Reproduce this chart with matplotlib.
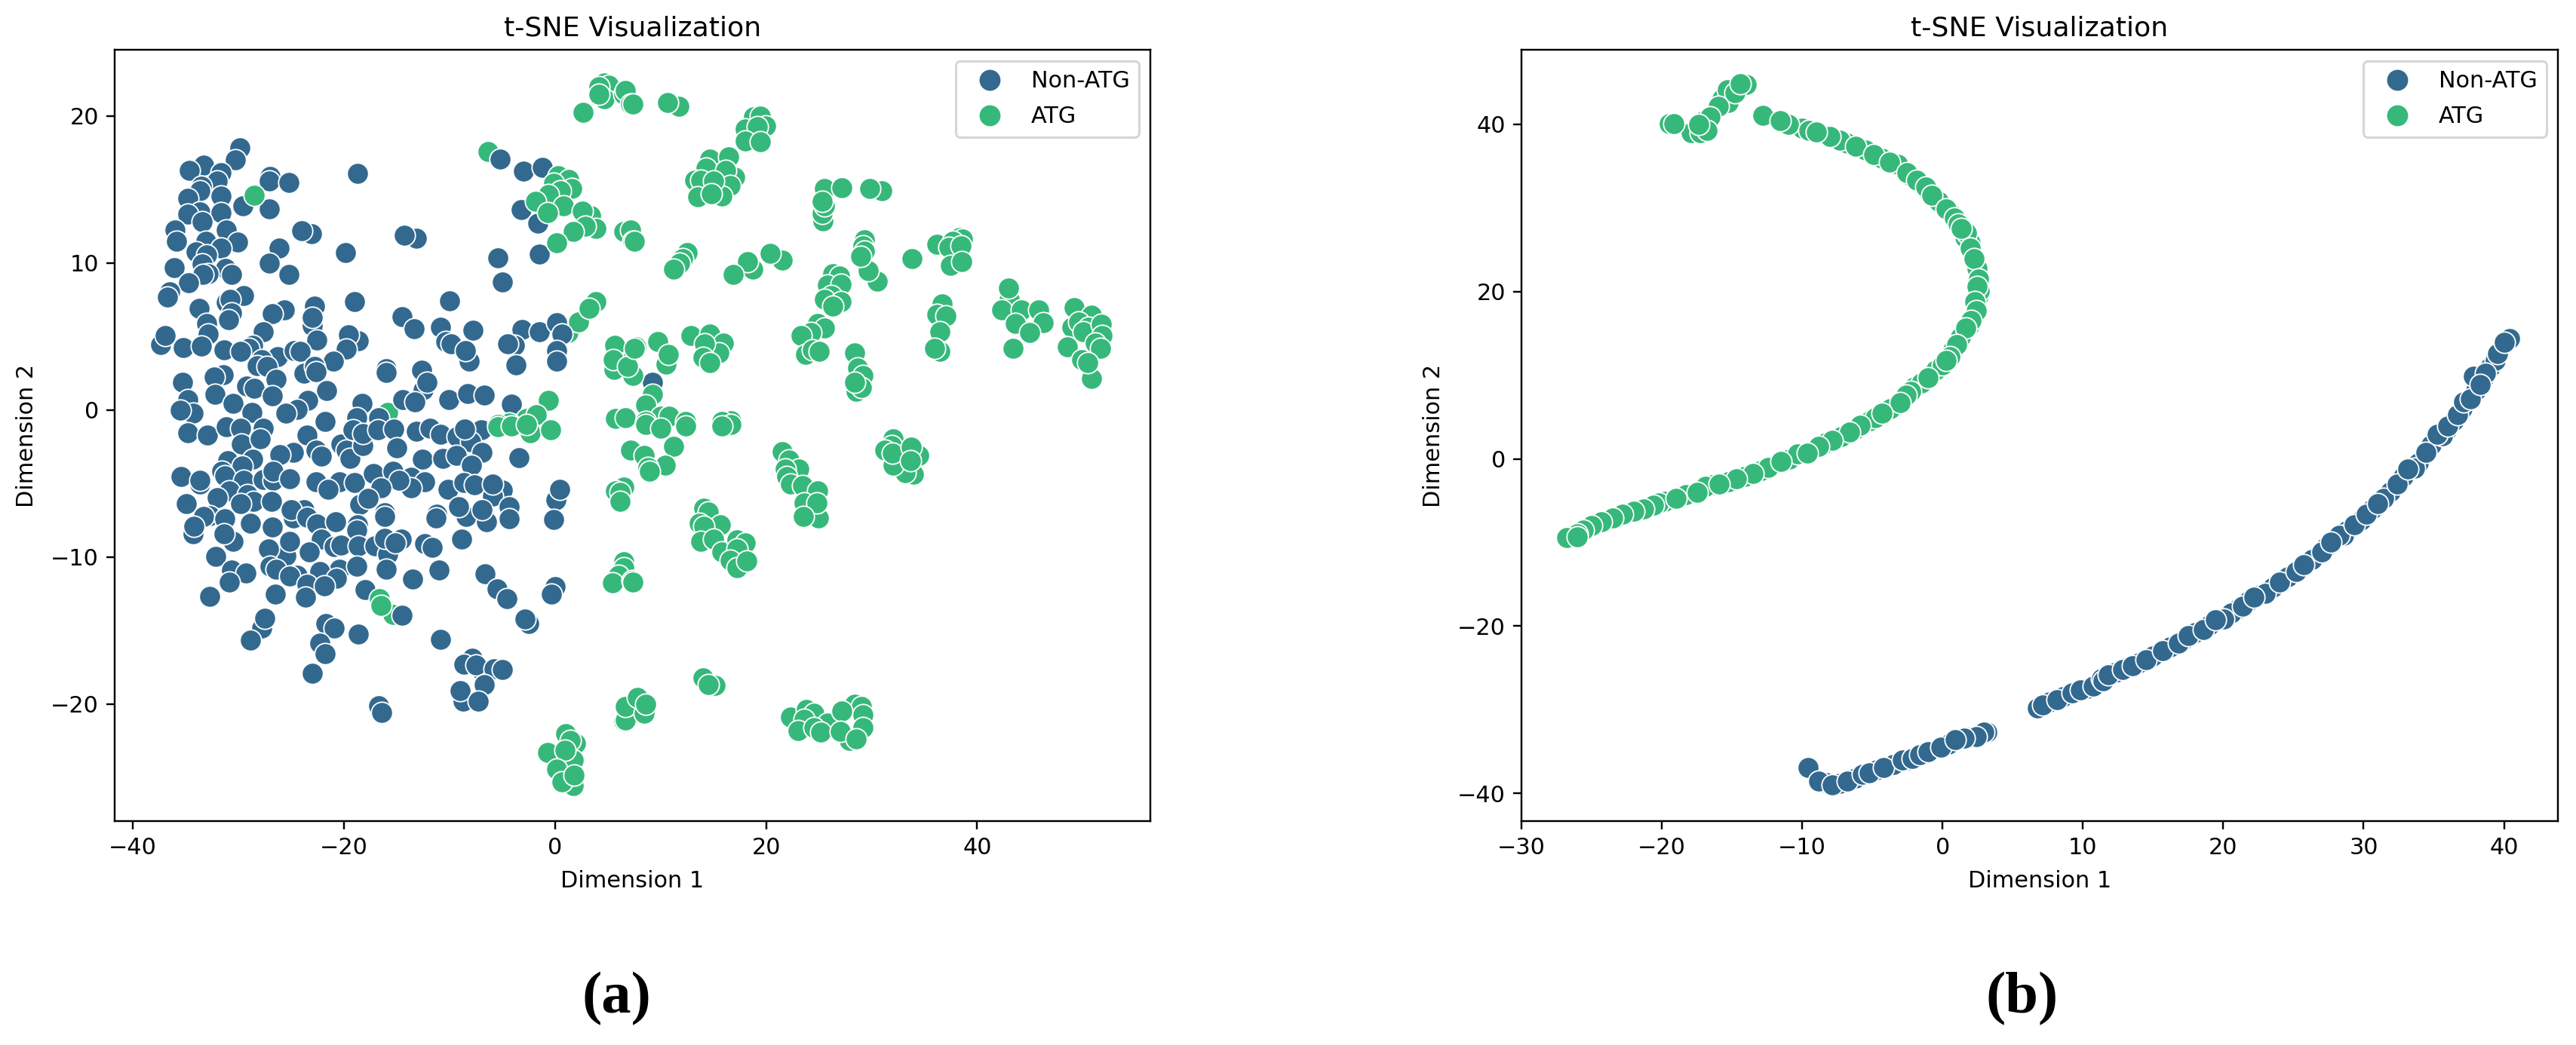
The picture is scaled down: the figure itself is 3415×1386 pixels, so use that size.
import numpy as np
import matplotlib
matplotlib.use("Agg")
import matplotlib.pyplot as plt
from matplotlib.lines import Line2D

BLUE = "#33698f"
GREEN = "#37b87b"
TITLE = "t-SNE Visualization"
XLABEL = "Dimension 1"
YLABEL = "Dimension 2"
LEGEND_LABELS = ["Non-ATG", "ATG"]

A_XTICKS = [-40, -20, 0, 20, 40]
A_YTICKS = [-20, -10, 0, 10, 20]
B_XTICKS = [-30, -20, -10, 0, 10, 20, 30, 40]
B_YTICKS = [-40, -20, 0, 20, 40]

# panel (a): ATG points that sit underneath the Non-ATG ones
A_ATG_BACK = [
    (-6.3, 17.6), (-15.8, -0.15), (1.25, 5.25), (-15.3, -13.9), (2.25, 6.0),
]

A_NON_ATG = [
    (-29.85, 17.86), (-30.3, 17.0), (-33.3, 16.65), (-34.6, 16.3), (-31.6, 16.15), (-31.95, 15.6),
    (-18.7, 16.1), (-27.0, 15.9), (-27.05, 15.6), (-25.2, 15.5), (-33.5, 15.2), (-33.6, 14.9),
    (-31.6, 14.55), (-34.8, 14.4), (-29.55, 13.9), (-27.05, 13.7), (-33.65, 13.5), (-31.6, 13.4),
    (-34.75, 13.3), (-33.4, 12.8), (-31.15, 12.25), (-36.0, 12.25), (-23.05, 12.0), (-24.0, 12.2),
    (-35.85, 11.5), (-33.05, 11.5), (-30.05, 11.45), (-31.65, 11.0), (-26.15, 11.0), (-33.95, 10.75),
    (-19.85, 10.7), (-27.05, 10.0), (-33.0, 10.55), (-36.05, 9.7), (-33.4, 9.95), (-31.2, 9.65),
    (-25.2, 9.2), (-32.85, 9.25), (-33.35, 9.2), (-30.6, 9.2), (-34.7, 8.65), (-36.5, 8.05),
    (-36.7, 7.7), (-29.5, 7.8), (-31.1, 7.3), (-30.8, 7.55), (-33.7, 6.9), (-25.65, 6.8),
    (-26.8, 6.55), (-22.8, 7.05), (-22.95, 5.75), (-22.95, 6.3), (-19.0, 7.4), (-30.6, 6.6),
    (-30.9, 6.15), (-33.0, 5.9), (-32.85, 5.15), (-27.65, 5.35), (-18.65, 4.7), (-19.55, 5.1),
    (-22.55, 4.75), (-37.35, 4.45), (-36.9, 5.05), (-35.2, 4.25), (-33.45, 4.35), (-31.35, 4.1),
    (-28.65, 4.4), (-28.95, 4.2), (-29.75, 4.0), (-26.25, 3.65), (-24.7, 4.05), (-24.1, 4.0),
    (-19.75, 4.15), (-21.0, 3.3), (-27.75, 3.45), (-28.2, 3.0), (-27.25, 2.95), (-23.75, 2.5),
    (-22.8, 2.95), (-22.6, 2.6), (-16.0, 2.8), (-16.0, 2.55), (-35.3, 1.9), (-31.4, 2.4),
    (-32.3, 2.25), (-26.4, 2.1), (-29.2, 1.65), (-28.5, 1.5), (-26.75, 0.95), (-21.6, 1.3),
    (-32.2, 1.05), (-30.45, 0.45), (-34.75, 0.7), (-34.3, -0.2), (-35.5, 0.0), (-23.4, 0.65),
    (-24.4, 0.05), (-25.45, -0.2), (-28.7, -0.15), (-18.3, 0.45), (-18.8, -0.5), (-16.7, -0.5),
    (-14.45, 6.35), (-13.35, 5.55), (-13.15, 11.7), (-14.25, 11.9), (-10.85, 5.65), (-9.95, 7.45),
    (-7.75, 5.45), (-10.35, 4.65), (-9.8, 4.5), (-8.1, 3.35), (-8.5, 4.05), (-3.1, 5.5),
    (-1.5, 5.35), (0.2, 5.95), (0.7, 5.15), (-3.8, 4.4), (-4.45, 4.5), (0.2, 4.05),
    (0.2, 3.3), (-3.7, 3.05), (-12.6, 2.7), (-12.45, 1.4), (-12.1, 1.9), (-14.4, 0.7),
    (-13.25, 0.55), (-10.05, 0.7), (-8.25, 1.1), (-6.7, 1.0), (-4.15, 0.4), (-5.2, 17.05),
    (-2.95, 16.25), (-1.2, 16.5), (-3.2, 13.65), (-1.6, 12.7), (-5.4, 10.35), (-1.45, 10.6),
    (-4.95, 8.7), (9.25, 1.9),
    (-34.75, -1.55), (-32.9, -1.7), (-31.1, -1.15), (-29.75, -1.25), (-27.6, -1.25), (-29.7, -2.3),
    (-27.9, -1.95), (-23.5, -1.7), (-21.8, -0.8), (-22.65, -2.7), (-22.1, -3.15), (-20.25, -2.3),
    (-19.75, -2.75), (-19.4, -3.3), (-19.15, -1.35), (-18.2, -2.4), (-18.2, -1.6), (-16.75, -1.35),
    (-15.25, -1.3), (-15.0, -2.55), (-13.15, -1.45), (-11.8, -1.25), (-10.85, -1.65), (-9.25, -1.8),
    (-7.0, -1.35), (-8.0, -2.15), (-8.55, -1.3), (-12.55, -3.35), (-10.65, -3.3), (-9.35, -3.1),
    (-6.9, -2.9), (-7.9, -3.75), (-3.4, -3.25), (-28.6, -3.35), (-24.8, -2.9), (-26.05, -3.05),
    (-31.0, -3.45), (-29.65, -3.8), (-31.55, -4.15), (-31.25, -4.45), (-29.45, -4.75), (-35.4, -4.5),
    (-33.65, -5.05), (-33.65, -4.75), (-27.6, -4.7), (-26.7, -4.8), (-26.7, -4.15), (-25.1, -4.65),
    (-22.65, -4.9), (-20.4, -4.9), (-21.5, -5.4), (-18.95, -4.95), (-17.2, -4.3), (-15.3, -4.15),
    (-13.6, -4.55), (-12.3, -4.9), (-13.65, -5.3), (-14.75, -4.8), (-16.5, -5.3), (-18.5, -6.4),
    (-17.7, -6.0), (-10.15, -5.4), (-8.6, -4.95), (-7.65, -5.1), (-4.95, -5.45), (-5.9, -5.85),
    (-5.9, -5.05), (0.1, -6.1), (0.45, -5.4), (-0.15, -7.45), (-30.85, -5.5), (-31.95, -5.95),
    (-34.9, -6.35), (-29.15, -5.75), (-28.55, -6.2), (-29.8, -6.35), (-26.85, -6.2), (-23.75, -6.75),
    (-24.75, -7.35), (-24.95, -6.8), (-23.45, -7.3), (-32.7, -7.2), (-33.3, -7.25), (-31.25, -7.4),
    (-34.3, -8.4), (-34.2, -7.9), (-28.85, -7.7), (-26.75, -7.95), (-22.55, -7.75), (-20.8, -7.6),
    (-18.7, -7.8), (-18.8, -8.15), (-16.15, -7.0), (-16.1, -7.25), (-11.2, -7.1), (-11.25, -7.35),
    (-8.4, -7.25), (-9.1, -6.55), (-6.45, -7.6), (-6.9, -6.75), (-4.3, -6.55), (-4.35, -7.4),
    (-30.45, -8.95), (-31.35, -8.4), (-25.5, -9.9), (-25.1, -8.95), (-27.1, -9.45), (-22.1, -8.8),
    (-20.9, -9.3), (-20.3, -9.2), (-18.6, -9.25), (-17.05, -9.25), (-15.8, -9.8), (-16.15, -8.7),
    (-14.55, -8.75), (-15.15, -9.05), (-12.3, -9.1), (-11.65, -9.35), (-8.8, -8.8), (-23.25, -9.65),
    (-32.15, -9.95), (-26.95, -10.6), (-26.4, -10.8), (-24.4, -11.25), (-25.1, -11.3), (-20.4, -10.8),
    (-22.3, -11.0), (-20.7, -11.45), (-18.75, -10.6), (-15.95, -10.8), (-10.95, -10.9), (-30.6, -10.9),
    (-29.25, -11.1), (-30.85, -11.7), (-13.5, -11.5), (-23.45, -11.85), (-21.85, -11.95), (-6.6, -11.15),
    (-5.5, -12.15), (-4.55, -12.85), (0.05, -12.0), (-0.3, -12.5), (-18.0, -12.2), (-32.7, -12.65),
    (-26.5, -12.5), (-23.65, -12.7), (-14.45, -13.95), (-2.45, -14.5), (-2.85, -14.2), (-27.75, -14.85),
    (-27.45, -14.15), (-28.85, -15.65), (-21.7, -14.5), (-20.9, -14.85), (-18.65, -15.25), (-22.3, -15.85),
    (-21.8, -16.55), (-10.8, -15.6), (-22.95, -17.9), (-7.8, -16.9), (-8.6, -17.3), (-6.85, -17.8),
    (-7.5, -17.35), (-5.75, -17.6), (-5.0, -17.65), (-6.7, -18.65), (-8.7, -19.8), (-8.95, -19.1),
    (-7.25, -19.8), (-16.7, -20.1), (-16.4, -20.55),
]

A_ATG = [
    (-28.5, 14.6), (-16.6, -12.85), (-16.5, -13.3),
    (0.3, 15.95), (1.3, 15.7), (-0.15, 15.4), (1.6, 15.05), (0.5, 14.9), (-0.65, 14.65), (-1.85, 14.2),
    (0.8, 13.9), (-0.7, 13.45), (3.35, 13.2), (2.6, 13.55), (3.85, 12.35), (2.85, 12.5), (1.75, 12.15),
    (0.15, 11.35), (3.9, 7.4), (3.25, 6.9), (4.65, 22.25), (5.1, 22.1), (4.15, 22.0), (4.7, 21.15),
    (4.2, 21.5), (2.65, 20.25), (6.55, 21.45), (6.7, 21.75), (7.2, 20.8), (7.35, 20.8), (11.75, 20.65),
    (10.7, 20.9), (18.8, 19.95), (19.45, 20.0), (18.05, 19.1), (19.95, 19.3), (19.15, 19.25),
    (18.05, 18.3), (19.45, 18.25), (14.7, 17.05), (16.45, 17.2), (14.35, 16.45), (17.05, 15.85),
    (16.15, 16.3), (13.25, 15.65), (13.8, 15.65), (16.6, 15.25), (13.55, 14.5), (15.8, 14.55),
    (15.05, 15.6), (14.85, 14.7), (25.5, 15.05), (27.15, 15.1), (30.95, 14.9), (29.8, 15.05),
    (25.4, 12.85), (25.35, 13.35), (25.5, 13.9), (25.35, 14.2), (6.55, 12.15), (7.2, 12.25),
    (7.35, 11.5), (7.5, 11.5), (12.55, 10.7), (12.1, 10.3), (11.8, 10.0), (11.25, 9.6), (21.55, 10.2),
    (20.4, 10.65), (18.75, 9.6), (18.25, 10.1), (16.9, 9.2), (29.3, 11.6), (29.2, 11.15), (29.35, 10.8),
    (30.5, 8.75), (29.65, 9.5), (28.95, 10.45), (33.8, 10.3), (36.2, 11.25), (38.3, 11.75), (38.6, 11.65),
    (37.65, 11.5), (37.3, 11.05), (38.45, 11.15), (37.5, 9.85), (38.55, 10.1), (26.3, 9.25), (26.95, 9.1),
    (25.85, 8.5), (27.1, 8.55), (26.15, 7.8), (25.5, 7.55), (27.1, 7.35), (26.3, 7.05), (24.9, 5.9),
    (25.5, 5.6), (24.25, 5.25), (23.3, 5.05), (23.75, 3.8), (24.4, 4.1), (25.05, 4.0), (28.4, 3.9),
    (28.7, 2.85), (29.2, 2.35), (28.55, 1.25), (29.05, 1.55), (28.4, 1.9), (36.7, 7.2), (36.2, 6.5),
    (37.05, 6.4), (36.5, 5.35), (36.5, 4.0), (36.0, 4.2), (43.05, 7.55), (43.0, 8.3), (42.3, 6.8),
    (44.15, 6.8), (45.85, 6.8), (43.6, 5.9), (46.25, 5.95), (44.95, 5.25), (43.4, 4.2), (49.2, 6.95),
    (50.85, 6.45), (49.0, 5.65), (49.6, 6.0), (50.55, 5.65), (50.05, 5.3), (51.75, 5.85), (51.85, 5.05),
    (51.2, 4.55), (51.65, 4.2), (48.55, 4.3), (49.9, 3.45), (50.8, 2.15), (50.5, 3.2), (9.25, 1.05),
    (12.9, 5.05), (14.7, 5.15), (15.95, 4.55), (15.5, 3.9), (14.2, 4.5), (14.05, 3.6), (14.7, 3.2),
    (7.65, 4.3), (9.75, 4.65), (10.55, 3.1), (10.75, 3.8), (6.7, 3.1), (7.35, 2.35), (5.65, 4.4),
    (5.6, 2.75), (5.5, 3.45), (6.85, 2.95), (7.5, 4.2), (6.55, -0.5), (5.75, -0.55), (-0.65, 0.65),
    (-2.7, -0.55), (-1.75, -0.3), (-4.3, -0.9), (-5.4, -1.0), (-2.3, -1.55), (-0.4, -1.35), (-5.4, -1.15),
    (-4.15, -1.1), (-2.7, -1.0), (8.6, 0.35), (10.05, -0.4), (10.85, -0.4), (6.7, -0.5), (8.6, -0.8),
    (12.4, -0.8), (16.65, -0.75), (15.8, -0.8), (8.6, -1.0), (10.05, -1.25), (12.4, -1.1), (16.65, -1.0),
    (15.8, -1.1), (7.2, -2.7), (8.45, -3.1), (11.25, -2.45), (10.45, -3.75), (8.8, -3.9), (8.95, -4.15),
    (6.55, -5.25), (5.75, -5.5), (6.2, -5.6), (6.15, -6.2), (6.55, -10.3), (6.55, -10.7), (6.05, -11.25),
    (5.45, -11.75), (7.3, -11.6), (7.35, -11.7), (6.55, -21.15), (6.7, -21.1), (6.8, -20.1), (6.7, -20.15),
    (7.85, -19.55), (8.45, -20.6), (8.6, -20.0), (1.05, -22.0), (1.95, -22.65), (1.45, -22.45),
    (-0.7, -23.3), (1.75, -23.8), (0.95, -23.15), (0.15, -24.4), (1.75, -25.55), (0.65, -25.3), (1.8, -24.8),
    (21.55, -2.85), (22.15, -3.4), (23.1, -4.0), (21.85, -4.0), (21.95, -4.5), (22.35, -5.05), (23.45, -5.15),
    (24.9, -5.5), (23.6, -6.3), (24.95, -7.35), (24.8, -6.3), (23.55, -7.25), (32.05, -1.95), (31.9, -2.4),
    (31.25, -2.75), (33.95, -4.35), (33.15, -4.25), (32.05, -3.75), (34.45, -3.1), (32.0, -2.95),
    (33.75, -2.5), (33.65, -3.45), (14.1, -6.65), (14.5, -6.95), (15.65, -7.8), (13.7, -7.7), (14.1, -7.9),
    (13.8, -8.95), (15.05, -8.75), (15.8, -9.65), (17.25, -8.85), (18.05, -9.05), (17.25, -9.45),
    (16.6, -10.2), (17.25, -10.7), (18.2, -10.25), (14.05, -18.2), (15.15, -18.7), (14.5, -18.65),
    (22.35, -20.9), (23.85, -20.35), (24.55, -20.6), (23.6, -21.05), (23.05, -21.8), (25.85, -21.3),
    (24.55, -21.6), (25.15, -21.9), (28.4, -20.0), (29.0, -20.15), (29.2, -20.7), (29.2, -21.6),
    (27.9, -22.45), (27.2, -20.45), (27.0, -21.85), (28.55, -22.35),
]

# the curves in panel (b) overlap heavily, the first rows are the points mostly hidden under the rest
B_NON_ATG = [
    (-8.3, -38.7), (-7.3, -38.8), (-6.2, -38.2), (-4.7, -37.2), (-3.5, -36.5), (-2.5, -36.0),
    (-1.3, -35.2), (0.4, -34.1), (1.2, -33.5), (2.0, -33.3), (7.6, -29.1), (8.6, -28.4), (10.3, -27.4),
    (12.3, -25.5), (13.0, -25.0), (14.0, -24.4), (15.0, -23.6), (16.2, -22.5), (17.2, -21.6), (18.0, -20.8),
    (19.0, -19.9), (21.0, -18.0), (21.8, -17.0), (22.6, -16.3), (23.5, -15.4), (24.6, -14.1), (26.3, -12.0),
    (27.3, -10.6), (28.8, -8.6), (29.8, -7.3), (30.6, -6.0), (31.9, -3.9), (32.8, -2.1), (33.9, -0.5),
    (34.8, 1.7), (35.9, 3.4), (36.4, 4.6), (37.0, 6.0), (38.0, 8.2), (38.5, 9.6), (39.0, 11.0), (39.4, 11.8),
    (40.2, 14.1),
    (-9.6, -36.9), (-8.85, -38.55), (-7.85, -38.95), (-6.8, -38.55), (-5.7, -37.75), (-5.2, -37.5),
    (-4.2, -36.9), (-2.85, -36.0), (-2.15, -35.85), (-1.65, -35.35), (-1.05, -35.05), (-0.1, -34.5),
    (3.15, -32.7), (2.95, -32.7), (2.4, -33.2), (1.55, -33.4), (0.9, -33.6), (6.75, -29.75), (7.15, -29.45),
    (8.15, -28.75), (9.25, -28.0), (9.8, -27.6), (10.75, -27.2), (11.35, -26.3), (11.45, -26.5),
    (11.8, -25.8), (12.85, -25.2), (13.55, -24.75), (14.5, -24.0), (15.7, -22.9), (16.8, -22.0),
    (17.5, -21.1), (18.6, -20.4), (20.55, -18.45), (20.05, -19.15), (19.45, -19.25), (21.4, -17.6),
    (23.0, -16.1), (22.2, -16.5), (24.0, -14.7), (25.2, -13.45), (25.75, -12.65), (27.0, -11.1),
    (28.6, -9.15), (28.25, -9.15), (27.65, -9.95), (29.35, -7.85), (30.2, -6.65), (31.45, -4.7),
    (31.0, -5.35), (32.4, -3.0), (33.65, -1.15), (33.15, -1.2), (34.45, 0.8), (35.6, 2.75), (35.25, 2.95),
    (36.0, 3.9), (36.7, 5.25), (37.1, 6.85), (37.6, 7.2), (37.8, 9.9), (38.7, 10.25), (38.3, 8.85),
    (39.55, 12.6), (40.4, 14.35), (40.0, 13.95),
]

B_ATG = [
    (-18.3, -4.3), (-19.8, -5.1), (-20.2, -5.3), (-21.8, -6.2), (-23.1, -6.9), (-24.7, -7.8), (-25.3, -8.2),
    (-26.4, -9.2), (-16.4, -3.1), (-15.3, -2.7), (-14.1, -2.1), (-12.9, -1.4), (-10.9, 0.0), (-8.3, 1.9),
    (-7.2, 2.7), (-6.2, 3.6), (-5.5, 4.3), (-3.7, 6.0), (-2.8, 7.2), (-2.0, 8.6), (-1.5, 9.1), (-0.5, 10.6),
    (0.0, 11.2), (0.75, 13.0), (1.3, 14.6), (1.9, 16.0), (2.55, 19.5), (2.6, 20.1), (2.5, 22.1), (1.95, 25.8),
    (1.6, 26.5), (0.5, 29.4), (-0.3, 30.8), (-1.0, 31.9), (-2.2, 33.8), (-4.3, 35.9), (-5.5, 36.9),
    (-6.8, 37.7), (-10.0, 39.5), (-17.0, 40.4), (-15.7, 43.0), (-15.3, 42.6),
    (-14.0, 44.75), (-15.35, 44.1), (-14.8, 43.75), (-14.4, 44.8), (-16.0, 42.1), (-16.55, 40.9),
    (-17.9, 39.0), (-17.25, 38.95), (-16.8, 39.3), (-17.35, 39.95), (-19.45, 40.1), (-19.15, 40.1),
    (-12.8, 41.1), (-11.0, 40.0), (-11.55, 40.45), (-9.5, 39.3), (-7.3, 38.05), (-8.0, 38.5), (-9.0, 39.1),
    (-6.2, 37.35), (-4.9, 36.4), (-3.2, 35.2), (-3.8, 35.45), (-2.55, 34.25), (-1.85, 33.3), (-1.2, 32.5),
    (-0.75, 31.55), (0.25, 29.85), (1.7, 27.0), (0.85, 28.8), (1.1, 28.1), (1.35, 27.55), (2.0, 25.2),
    (2.45, 22.75), (2.25, 23.9), (2.55, 21.5), (2.45, 20.6), (2.3, 18.8), (2.4, 17.75), (2.05, 16.5),
    (1.65, 15.6), (1.0, 13.65), (0.5, 12.2), (0.25, 11.8), (-1.05, 9.65), (-2.25, 8.1), (-2.6, 7.6),
    (-3.0, 6.7), (-5.15, 4.55), (-4.8, 4.9), (-4.3, 5.45), (-5.85, 4.0), (-6.6, 3.2), (-7.85, 2.25),
    (-8.85, 1.45), (-10.35, 0.6), (-9.65, 0.7), (-12.4, -1.0), (-11.5, -0.35), (-13.5, -1.75), (-14.7, -2.4),
    (-16.9, -3.3), (-15.9, -3.0), (-17.5, -4.0), (-19.0, -4.7), (-20.6, -5.5), (-21.3, -6.0), (-22.0, -6.3),
    (-22.8, -6.6), (-23.5, -7.1), (-24.3, -7.5), (-25.0, -8.0), (-25.6, -8.5), (-26.0, -9.0), (-26.8, -9.4),
    (-26.0, -9.3),
]


def draw_points(ax, points, color):
    pts = np.array(points)
    ax.scatter(pts[:, 0], pts[:, 1], s=88, c=color, edgecolors="white", linewidths=0.6)


def finish_axes(ax, xlim, ylim, xticks, yticks):
    ax.set_xlim(xlim)
    ax.set_ylim(ylim)
    ax.set_xticks(xticks)
    ax.set_yticks(yticks)
    ax.set_title(TITLE)
    ax.set_xlabel(XLABEL, labelpad=5)
    ax.set_ylabel(YLABEL, labelpad=5.5)
    handles = [
        Line2D([], [], marker="o", ls="", color=c, mec="white", mew=0.6, ms=9.8)
        for c in (BLUE, GREEN)
    ]
    ax.legend(handles, LEGEND_LABELS, loc="upper right", labelspacing=0.6,
              handlelength=2.2, handletextpad=0.7)


W, H = 3415, 1386
fig = plt.figure(figsize=(W / 218, H / 218), dpi=218)
ax_a = fig.add_axes([152 / W, 1 - 1089 / H, (1525 - 152) / W, (1089 - 66) / H])
ax_b = fig.add_axes([2017 / W, 1 - 1089 / H, (3391 - 2017) / W, (1089 - 66) / H])

draw_points(ax_a, A_ATG_BACK, GREEN)
draw_points(ax_a, A_NON_ATG, BLUE)
draw_points(ax_a, A_ATG, GREEN)
finish_axes(ax_a, (-41.7, 56.4), (-27.95, 24.5), A_XTICKS, A_YTICKS)

draw_points(ax_b, B_NON_ATG, BLUE)
draw_points(ax_b, B_ATG, GREEN)
finish_axes(ax_b, (-30, 43.84), (-43.3, 48.9), B_XTICKS, B_YTICKS)

for label, cx in (("(a)", 817 / W), ("(b)", 2681 / W)):
    fig.text(cx, 1 - 1325 / H, label, ha="center", va="center", fontsize=26,
             family="Liberation Serif", weight="bold")

fig.savefig("out.png", dpi=218)
